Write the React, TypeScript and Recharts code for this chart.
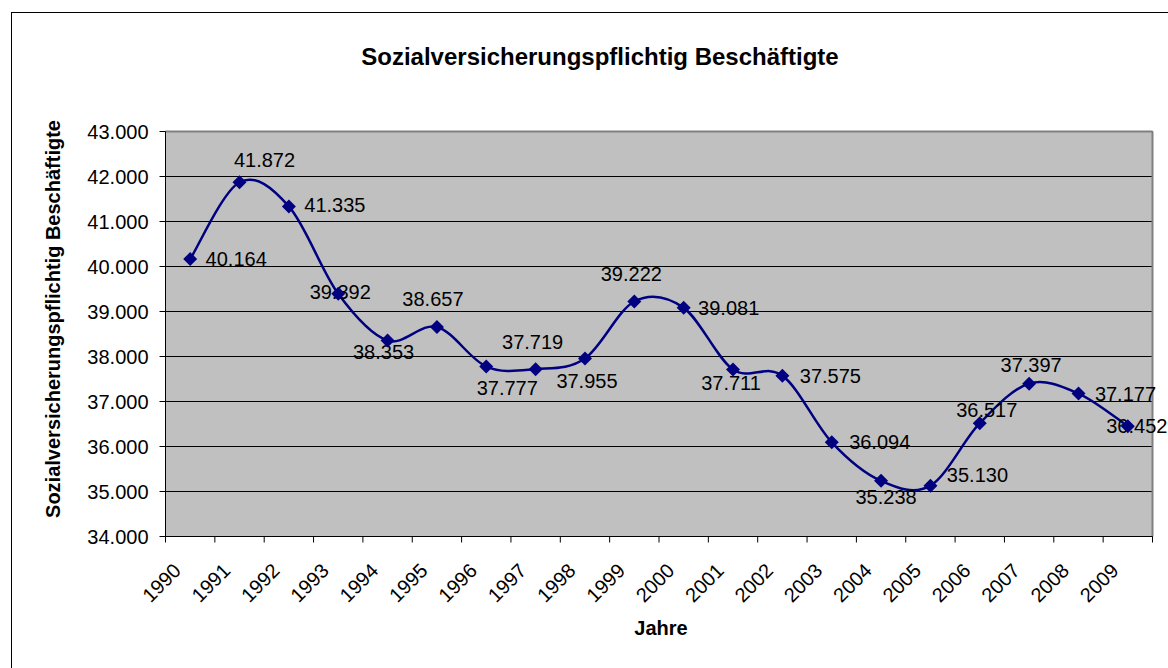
import { LineChart, Line, XAxis, YAxis, CartesianGrid, ReferenceLine } from 'recharts';

const YEARS = ['1990', '1991', '1992', '1993', '1994', '1995', '1996', '1997', '1998', '1999',
  '2000', '2001', '2002', '2003', '2004', '2005', '2006', '2007', '2008', '2009'];
const EMPLOYED = [40164, 41872, 41335, 39392, 38353, 38657, 37777, 37719, 37955, 39222,
  39081, 37711, 37575, 36094, 35238, 35130, 36517, 37397, 37177, 36452];
const Y_TICKS = [34000, 35000, 36000, 37000, 38000, 39000, 40000, 41000, 42000, 43000];

// label centre relative to its marker (Excel labels were placed by hand)
const LABEL_OFFSETS: [number, number][] = [
  [46, 0], [25, -22], [46, -1], [2, -2], [-4, 11], [-4, -28], [21, 21], [-3, -27], [2, 22], [-3, -28],
  [45, 0], [-2, 13], [48, 0], [48, 0], [5, 16], [47, -11], [7, -13], [2, -19], [47, 0], [9, 0],
];

const FONT = '"Liberation Sans", Arial, sans-serif';
const NAVY = '#000080';

const data = YEARS.map((year, i) => ({ year, value: EMPLOYED[i] }));

function fmt(v: number): string {
  return String(Math.round(v)).replace(/\B(?=(\d{3})+(?!\d))/g, '.');
}

// Excel-style smoothed line (Catmull-Rom as cubic Bezier)
function excelSmooth(context: any) {
  let pts: number[][] = [];
  return {
    areaStart() {},
    areaEnd() {},
    lineStart() { pts = []; },
    point(x: number, y: number) { pts.push([+x, +y]); },
    lineEnd() {
      if (!pts.length) return;
      context.moveTo(pts[0][0], pts[0][1]);
      for (let i = 0; i < pts.length - 1; i++) {
        const p0 = pts[Math.max(i - 1, 0)];
        const p1 = pts[i];
        const p2 = pts[i + 1];
        const p3 = pts[Math.min(i + 2, pts.length - 1)];
        context.bezierCurveTo(
          p1[0] + (p2[0] - p0[0]) / 6, p1[1] + (p2[1] - p0[1]) / 6,
          p2[0] - (p3[0] - p1[0]) / 6, p2[1] - (p3[1] - p1[1]) / 6,
          p2[0], p2[1],
        );
      }
    },
  };
}

function Marker(props: any) {
  const { cx, cy, index, value } = props;
  if (cx == null || cy == null) return null;
  const [dx, dy] = LABEL_OFFSETS[index] ?? [0, 0];
  return (
    <g key={`m${index}`}>
      <text x={cx + dx} y={cy + dy} textAnchor="middle" dominantBaseline="central" fontSize={20} fill="#000">
        {fmt(value)}
      </text>
      <polygon points={`${cx},${cy - 7} ${cx + 7},${cy} ${cx},${cy + 7} ${cx - 7},${cy}`} fill={NAVY} />
    </g>
  );
}

function YearTick(props: any) {
  const { x, y, payload, index } = props;
  const half = payload?.offset ?? 0;
  return (
    <g>
      <line x1={x - half} x2={x - half} y1={y} y2={y + 6} stroke="#000" />
      {index === YEARS.length - 1 && <line x1={x + half} x2={x + half} y1={y} y2={y + 6} stroke="#000" />}
      <text transform={`translate(${x - 8},${y + 35.5}) rotate(-45)`} textAnchor="end" fontSize={20} fill="#000">
        {payload.value}
      </text>
    </g>
  );
}

export default function App() {
  return (
    <div style={{ position: 'fixed', left: 0, top: 0, width: 1168, height: 668, overflow: 'hidden', background: '#fff', fontFamily: FONT }}>
      <div style={{ position: 'absolute', left: 11, top: 12, width: 2000, height: 2000, border: '1px solid #000' }} />

      <LineChart width={1168} height={668} data={data} margin={{ top: 131.5, right: 15.5, bottom: 91.5, left: 105.5 }}>
        <CartesianGrid vertical={false} fill="#C0C0C0" stroke="#000" strokeOpacity={1} />
        <XAxis
          dataKey="year"
          scale="band"
          interval={0}
          height={40}
          tickLine={false}
          tickSize={0}
          tickMargin={0}
          axisLine={{ stroke: '#000' }}
          tick={<YearTick />}
        />
        <YAxis
          domain={[34000, 43000]}
          ticks={Y_TICKS}
          width={60}
          tickSize={6}
          tickMargin={11}
          tickFormatter={fmt}
          tick={{ fontSize: 20, fill: '#000' }}
          tickLine={{ stroke: '#000' }}
          axisLine={{ stroke: '#000' }}
          allowDataOverflow
        />
        <ReferenceLine y={43000} stroke="#808080" strokeWidth={2} />
        <ReferenceLine x="2009" position="end" stroke="#808080" strokeWidth={2} />
        <Line
          dataKey="value"
          type={excelSmooth as any}
          stroke={NAVY}
          strokeWidth={2.5}
          dot={<Marker />}
          activeDot={false}
          isAnimationActive={false}
        />
      </LineChart>

      <div style={{ position: 'absolute', left: 0, width: 1200, top: 43, textAlign: 'center', fontSize: 24, fontWeight: 'bold', lineHeight: '28px' }}>
        Sozialversicherungspflichtig Beschäftigte
      </div>
      <div style={{ position: 'absolute', left: 52.5, top: 319, width: 0, height: 0 }}>
        <div style={{ position: 'absolute', left: -300, top: -12, width: 600, textAlign: 'center', fontSize: 20, fontWeight: 'bold', lineHeight: '24px', transform: 'rotate(-90deg)' }}>
          Sozialversicherungspflichtig Beschäftigte
        </div>
      </div>
      <div style={{ position: 'absolute', left: 561, width: 200, top: 616, textAlign: 'center', fontSize: 20, fontWeight: 'bold', lineHeight: '24px' }}>
        Jahre
      </div>
    </div>
  );
}
